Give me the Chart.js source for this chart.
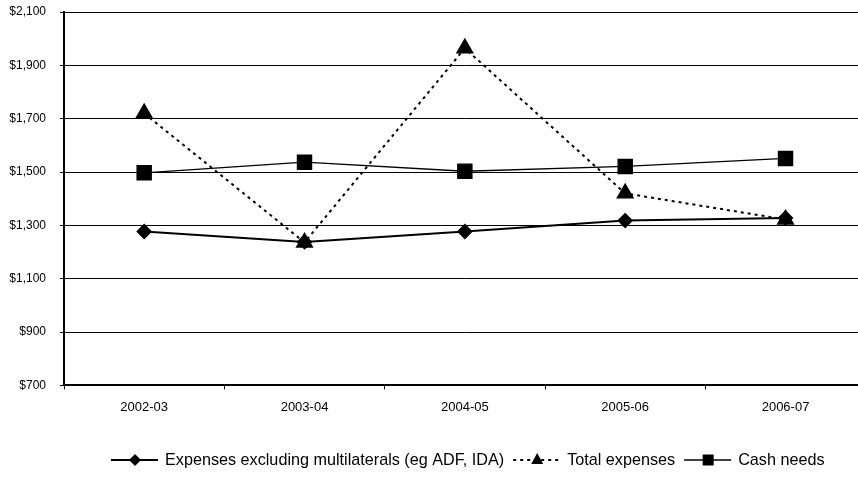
<!DOCTYPE html>
<html>
<head>
<meta charset="utf-8">
<script src="https://cdn.jsdelivr.net/npm/chart.js@4.4.0/dist/chart.umd.min.js"></script>
<style>
  html, body { margin: 0; padding: 0; background: #fff; overflow: hidden; }
  #wrap { width: 877px; height: 477px; }
</style>
</head>
<body>
<div id="wrap"><canvas id="chart" width="877" height="477"></canvas></div>
<script>
// values ($m)
const categories = ['2002-03', '2003-04', '2004-05', '2005-06', '2006-07'];
const exclMultilaterals = [1277, 1238, 1277, 1318, 1328];
const totalExpenses = [1720, 1236, 1964, 1420, 1322];
const cashNeeds = [1497, 1537, 1503, 1521, 1551];
const yTicks = [700, 900, 1100, 1300, 1500, 1700, 1900, 2100];

const FONT = 'Arial, "Liberation Sans", sans-serif';

// draws a legend marker by hand (same shapes as chart points)
function drawMarker(ctx, style, x, y) {
    ctx.beginPath();
    if (style === 'rectRot') {
        ctx.moveTo(x, y - 6); ctx.lineTo(x + 6, y); ctx.lineTo(x, y + 6); ctx.lineTo(x - 6, y);
    } else if (style === 'triangle') {
        ctx.moveTo(x, y - 7); ctx.lineTo(x + 6, y + 4); ctx.lineTo(x - 6, y + 4);
    } else {
        ctx.rect(x - 5.5, y - 5.5, 11, 11);
    }
    ctx.closePath();
    ctx.fill();
}

// legend drawn at the bottom: line + marker + label, like the old Excel legend
const bottomLegend = {
    id: 'bottomLegend',
    afterDraw(chart) {
        const ctx = chart.ctx;
        const y = 460;
        let x = 111;
        ctx.save();
        ctx.font = '16.2px ' + FONT;
        ctx.textBaseline = 'middle';
        chart.data.datasets.forEach(ds => {
            ctx.strokeStyle = '#000';
            ctx.fillStyle = '#000';
            ctx.lineWidth = Math.max(ds.borderWidth, 1.5);
            ctx.setLineDash(ds.borderDash || []);
            ctx.beginPath();
            ctx.moveTo(x, y);
            ctx.lineTo(x + 47, y);
            ctx.stroke();
            ctx.setLineDash([]);
            drawMarker(ctx, ds.pointStyle, x + 24, y);
            ctx.fillText(ds.label, x + 54, y + 1);
            x += 54 + ctx.measureText(ds.label).width + 9;
        });
        ctx.restore();
    }
};

const ctx = document.getElementById('chart');
const chart = new Chart(ctx, {
    type: 'line',
    data: {
        labels: categories,
        datasets: [{
            label: 'Expenses excluding multilaterals (eg ADF, IDA)',
            data: exclMultilaterals,
            borderColor: '#000',
            backgroundColor: '#000',
            borderWidth: 2,
            pointStyle: 'rectRot',
            pointRadius: 6.5,
            pointHoverRadius: 6.5,
            tension: 0
        }, {
            label: 'Total expenses',
            data: totalExpenses,
            borderColor: '#000',
            backgroundColor: '#000',
            borderWidth: 2,
            borderDash: [3, 4],
            pointStyle: 'triangle',
            pointRadius: 8.5,
            pointHoverRadius: 8.5,
            tension: 0
        }, {
            label: 'Cash needs',
            data: cashNeeds,
            borderColor: '#000',
            backgroundColor: '#000',
            borderWidth: 1.3,
            pointStyle: 'rect',
            pointRadius: 10,
            pointHoverRadius: 10,
            tension: 0
        }]
    },
    options: {
        responsive: false,
        animation: false,
        layout: { padding: { top: 12, right: 0, bottom: 52, left: 6 } },
        plugins: {
            legend: { display: false },
            tooltip: { enabled: false }
        },
        scales: {
            x: {
                offset: true,
                grid: {
                    offset: true,
                    drawOnChartArea: false,
                    color: '#000',
                    tickLength: 4
                },
                border: { color: '#000', width: 2 },
                ticks: {
                    color: '#000',
                    font: { family: FONT, size: 13 },
                    padding: 10,
                    maxRotation: 0
                }
            },
            y: {
                min: 700,
                max: 2100,
                afterBuildTicks: axis => { axis.ticks = yTicks.map(v => ({ value: v })); },
                afterFit: axis => {
                    axis.width = 58;
                    axis.paddingTop = 0;
                    axis.paddingBottom = 0;
                },
                grid: { color: '#000', lineWidth: 1, tickLength: 4 },
                border: { color: '#000', width: 2 },
                ticks: {
                    color: '#000',
                    font: { family: FONT, size: 12 },
                    padding: 14,
                    callback: v => '$' + v.toLocaleString('en-US')
                }
            }
        }
    },
    plugins: [bottomLegend]
});
</script>
</body>
</html>
